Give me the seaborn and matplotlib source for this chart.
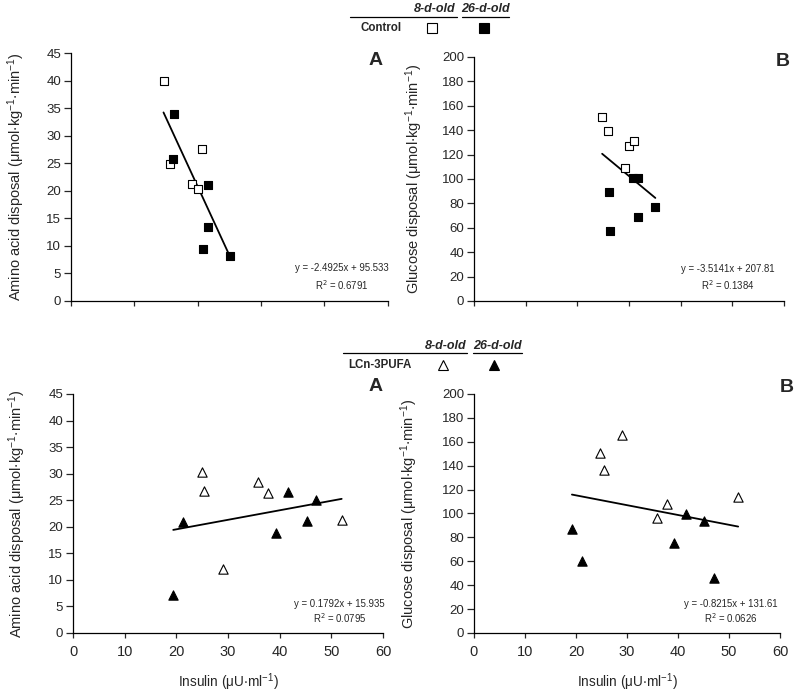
import numpy as np
import pandas as pd
import seaborn as sns
import matplotlib.pyplot as plt
from matplotlib.lines import Line2D

sns.set_style("ticks")
plt.rcParams['font.family'] = ['Liberation Sans', 'DejaVu Sans']

# control, panel A (amino acid) and B (glucose)
ctrl_a_x8 = [24.6, 25.6, 30.7, 29.1, 30.0]
ctrl_a_y8 = [40.0, 24.9, 27.5, 21.2, 20.3]
ctrl_a_x26 = [26.3, 26.1, 31.7, 31.7, 30.9, 35.1]
ctrl_a_y26 = [33.9, 25.8, 21.1, 13.5, 9.4, 8.1]

ctrl_b_x8 = [24.8, 25.9, 30.0, 30.9, 29.3]
ctrl_b_y8 = [151.2, 139.7, 127.1, 131.2, 109.3]
ctrl_b_x26 = [30.7, 31.8, 26.2, 26.4, 31.7, 35.1]
ctrl_b_y26 = [100.8, 100.8, 89.1, 57.0, 68.8, 77.3]

# LCn-3PUFA
pufa_a_x8 = [24.9, 25.4, 35.8, 37.8, 29.0, 52.0]
pufa_a_y8 = [30.4, 26.8, 28.4, 26.3, 12.0, 21.2]
pufa_a_x26 = [21.2, 19.4, 41.7, 47.1, 45.2, 39.3]
pufa_a_y26 = [20.9, 7.2, 26.6, 25.1, 21.1, 18.9]

pufa_b_x8 = [24.8, 25.4, 29.1, 35.8, 37.8, 51.8]
pufa_b_y8 = [150.3, 136.7, 165.4, 96.5, 107.6, 113.8]
pufa_b_x26 = [19.2, 21.1, 41.5, 45.1, 39.3, 47.1]
pufa_b_y26 = [86.7, 60.3, 99.8, 94.0, 75.3, 46.0]

# fitted trend lines: slope, intercept, r2
fits = {
    "ctrl_a": (-2.4925, 95.533, 0.6791, "y = -2.4925x + 95.533"),
    "ctrl_b": (-3.5141, 207.81, 0.1384, "y = -3.5141x + 207.81"),
    "pufa_a": (0.1792, 15.935, 0.0795, "y = 0.1792x + 15.935"),
    "pufa_b": (-0.8215, 131.61, 0.0626, "y = -0.8215x + 131.61"),
}

ylab_aa = r"Amino acid disposal ($\mathregular{\mu mol{\cdot}kg^{-1}{\cdot}min^{-1}}$)"
ylab_gl = r"Glucose disposal ($\mathregular{\mu mol{\cdot}kg^{-1}{\cdot}min^{-1}}$)"
xlab = r"Insulin ($\mathregular{\mu U{\cdot}ml^{-1}}$)"

fig = plt.figure(figsize=(8, 6.94), dpi=100)
ax1 = fig.add_axes([0.08875, 0.5663, 0.396, 0.3573])
ax2 = fig.add_axes([0.5925, 0.5663, 0.3875, 0.3516])
ax3 = fig.add_axes([0.09125, 0.0879, 0.3875, 0.3444])
ax4 = fig.add_axes([0.5925, 0.0879, 0.3825, 0.3444])


def draw(ax, x8, y8, x26, y26, marker, ms, key):
    sns.scatterplot(x=x8, y=y8, ax=ax, marker=marker, s=ms, facecolor="white",
                    edgecolor="black", linewidth=0.8, zorder=3)
    sns.scatterplot(x=x26, y=y26, ax=ax, marker=marker, s=ms, color="black",
                    edgecolor="black", linewidth=0.8, zorder=3)
    m, b, r2, eq = fits[key]
    allx = np.array(x8 + x26)
    xs = np.array([allx.min(), allx.max()])
    sns.lineplot(x=xs, y=m * xs + b, ax=ax, color="black", linewidth=1.3, zorder=2)
    return eq, r2


def style(ax, xlim, xt, ylim, yt, ylabel, xlabels, ylab_x):
    ax.set_xlim(*xlim)
    ax.set_ylim(*ylim)
    ax.set_xticks(xt)
    ax.set_yticks(yt)
    sns.despine(ax=ax)
    for s in ["left", "bottom"]:
        ax.spines[s].set_linewidth(0.9)
        ax.spines[s].set_color("black")
    ax.tick_params(axis="y", direction="out", length=5, width=0.9, labelsize=9.5, pad=2)
    ax.tick_params(axis="x", direction="out", length=3.5, width=0.9, labelsize=10.5, pad=5)
    if not xlabels:
        ax.set_xticklabels([])
    ax.set_ylabel(ylabel, fontsize=10.5, va="bottom")
    ax.yaxis.set_label_coords(ylab_x, 0.5)


eq_fs = 6.9

eq, r2 = draw(ax1, ctrl_a_x8, ctrl_a_y8, ctrl_a_x26, ctrl_a_y26, "s", 30, "ctrl_a")
style(ax1, (10, 60), range(10, 61, 10), (0, 45), range(0, 46, 5), ylab_aa, False, -0.139)
ax1.text(0.855, 0.12, eq, transform=ax1.transAxes, ha="center", fontsize=eq_fs)
ax1.text(0.855, 0.045, r"R$^2$ = %.4f" % r2, transform=ax1.transAxes, ha="center", fontsize=eq_fs)
ax1.text(0.962, 0.97, "A", transform=ax1.transAxes, ha="center", va="center",
         fontsize=14, fontweight="bold")

eq, r2 = draw(ax2, ctrl_b_x8, ctrl_b_y8, ctrl_b_x26, ctrl_b_y26, "s", 30, "ctrl_b")
style(ax2, (0, 60), range(0, 61, 10), (0, 200), range(0, 201, 20), ylab_gl, False, -0.158)
ax2.text(0.82, 0.12, eq, transform=ax2.transAxes, ha="center", fontsize=eq_fs)
ax2.text(0.82, 0.045, r"R$^2$ = %.4f" % r2, transform=ax2.transAxes, ha="center", fontsize=eq_fs)
ax2.text(0.997, 0.98, "B", transform=ax2.transAxes, ha="center", va="center",
         fontsize=14, fontweight="bold")

eq, r2 = draw(ax3, pufa_a_x8, pufa_a_y8, pufa_a_x26, pufa_a_y26, "^", 45, "pufa_a")
style(ax3, (0, 60), range(0, 61, 10), (0, 45), range(0, 46, 5), ylab_aa, True, -0.145)
ax3.text(0.86, 0.11, eq, transform=ax3.transAxes, ha="center", fontsize=eq_fs)
ax3.text(0.86, 0.04, r"R$^2$ = %.4f" % r2, transform=ax3.transAxes, ha="center", fontsize=eq_fs)
ax3.text(0.977, 1.033, "A", transform=ax3.transAxes, ha="center", va="center",
         fontsize=14, fontweight="bold")
ax3.set_xlabel(xlab, fontsize=9.8)
ax3.xaxis.set_label_coords(0.5, -0.16)

eq, r2 = draw(ax4, pufa_b_x8, pufa_b_y8, pufa_b_x26, pufa_b_y26, "^", 45, "pufa_b")
style(ax4, (0, 60), range(0, 61, 10), (0, 200), range(0, 201, 20), ylab_gl, True, -0.175)
ax4.text(0.84, 0.11, eq, transform=ax4.transAxes, ha="center", fontsize=eq_fs)
ax4.text(0.84, 0.04, r"R$^2$ = %.4f" % r2, transform=ax4.transAxes, ha="center", fontsize=eq_fs)
ax4.text(1.021, 1.027, "B", transform=ax4.transAxes, ha="center", va="center",
         fontsize=14, fontweight="bold")
ax4.set_xlabel(xlab, fontsize=9.8)
ax4.xaxis.set_label_coords(0.5, -0.16)


# group keys drawn at the top of each row
def fx(px):
    return px / 800


def fy(py):
    return 1 - py / 694


def key(line1, line2, ly, t8, t26, name_x, name, m_x8, m_x26, my, marker, ms):
    fig.add_artist(Line2D([fx(line1[0]), fx(line1[1])], [fy(ly), fy(ly)], color="black", lw=0.9))
    fig.add_artist(Line2D([fx(line2[0]), fx(line2[1])], [fy(ly), fy(ly)], color="black", lw=0.9))
    fig.text(fx(t8), fy(ly - 1.5), "8-d-old", ha="center", va="bottom", fontsize=9,
             fontweight="bold", style="italic")
    fig.text(fx(t26), fy(ly - 1.5), "26-d-old", ha="center", va="bottom", fontsize=9,
             fontweight="bold", style="italic")
    fig.text(fx(name_x), fy(my), name, ha="center", va="center", fontsize=8.3, fontweight="bold")
    fig.add_artist(Line2D([fx(m_x8)], [fy(my)], marker=marker, ms=ms, mfc="white",
                          mec="black", mew=0.8, ls="none"))
    fig.add_artist(Line2D([fx(m_x26)], [fy(my)], marker=marker, ms=ms, mfc="black",
                          mec="black", mew=0.8, ls="none"))


key((350, 457), (462, 509), 16.7, 434.5, 485.5, 381, "Control", 432, 483.5, 28, "s", 6.5)
key((343, 467), (473, 522), 353.3, 446, 498, 380, "LCn-3PUFA", 443, 494, 364.5, "^", 7.5)

fig.savefig("out.png", dpi=100, facecolor="white")
